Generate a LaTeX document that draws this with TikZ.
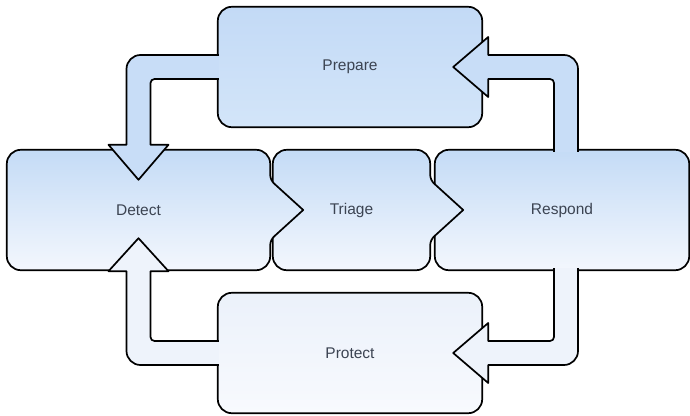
\documentclass[tikz,border=0pt]{standalone}
\usepackage{fontspec}
\setmainfont{Liberation Sans}
\usetikzlibrary{calc, backgrounds}
\definecolor{labeltext}{HTML}{3C4452}
\definecolor{preptop}{HTML}{C3DAF6}
\definecolor{preplow}{HTML}{D3E5F9}
\definecolor{boxtop}{HTML}{C4DBF6}
\definecolor{boxlow}{HTML}{F3F7FD}
\definecolor{prottop}{HTML}{EBF1FA}
\definecolor{protlow}{HTML}{F8FAFE}
\definecolor{arrowblue}{HTML}{C8DDF7}
\definecolor{arrowpale}{HTML}{EEF3FB}

\begin{document}
\begin{tikzpicture}[x=1pt, y=-1pt,
    every node/.style={font=\fontsize{15.5}{18}\selectfont, text=labeltext},
    panel/.style={minimum height=120pt, inner sep=0pt},
    outline/.style={draw=black, line width=1.7pt, line join=round},
    prepbox/.style={outline, top color=preptop, bottom color=preplow},
    stagebox/.style={outline, top color=boxtop, bottom color=boxlow},
    protbox/.style={outline, top color=prottop, bottom color=protlow},
    arrowup/.style={outline, fill=arrowblue},
    arrowdown/.style={outline, fill=arrowpale}
]
    \useasboundingbox (0,0) rectangle (690,415);

    % Stage labels
    \node[panel, minimum width=264pt] (prepare) at (350,67)    {Prepare};
    \node[panel, minimum width=263pt] (detect)  at (138.5,210) {Detect};
    \node[panel, minimum width=157pt] (triage)  at (351.5,210) {Triage};
    \node[panel, minimum width=254pt] (respond) at (562,210)   {Respond};
    \node[panel, minimum width=264pt] (protect) at (350,353)   {Protect};

    \coordinate (tl)  at (detect.north |- prepare.west);
    \coordinate (bl)  at (detect.south |- protect.west);
    \coordinate (rup) at ($(respond.north)+(4,0)$);
    \coordinate (rdn) at ($(respond.south)+(4,0)$);
    \coordinate (tr)  at (rup |- prepare.east);
    \coordinate (br)  at (rdn |- protect.east);

    \begin{scope}[on background layer]
    % Middle row, drawn right to left so each point overlaps
    \path[stagebox] [rounded corners=14] (respond.north west) rectangle (respond.south east);
    \path[stagebox] (triage.north) [rounded corners=14] -- (triage.north east)
        [rounded corners=5] -- ($(triage.east)+(0,-30)$)
        [sharp corners] -- ($(triage.east)+(33,0)$)
        [rounded corners=5] -- ($(triage.east)+(0,30)$)
        [rounded corners=14] -- (triage.south east) -- (triage.south west)
        -- (triage.north west) -- cycle;
    \path[stagebox] (detect.north) [rounded corners=14] -- (detect.north east)
        [rounded corners=5] -- ($(detect.east)+(0,-30)$)
        [sharp corners] -- ($(detect.east)+(33,0)$)
        [rounded corners=5] -- ($(detect.east)+(0,30)$)
        [rounded corners=14] -- (detect.south east) -- (detect.south west)
        -- (detect.north west) -- cycle;

    % Top and bottom boxes
    \path[prepbox] [rounded corners=14] (prepare.north west) rectangle (prepare.south east);
    \path[protbox] [rounded corners=14] (protect.north west) rectangle (protect.south east);

    % Prepare -> Detect
    \filldraw[arrowup] ($(prepare.west)+(1,-12)$)
        [rounded corners=14] -- ($(tl)+(-12,-12)$)
        [sharp corners] -- ($(detect.north)+(-12,-5)$) -- ($(detect.north)+(-30,-5)$)
        -- ($(detect.north)+(0,30)$) -- ($(detect.north)+(30,-5)$) -- ($(detect.north)+(12,-5)$)
        [rounded corners=4] -- ($(tl)+(12,12)$)
        [sharp corners] -- ($(prepare.west)+(1,12)$);

    % Respond -> Prepare
    \filldraw[arrowup] ($(rup)+(-12,2)$)
        [rounded corners=4] -- ($(tr)+(-12,12)$)
        [sharp corners] -- ($(prepare.east)+(6,12)$) -- ($(prepare.east)+(6,30)$)
        -- ($(prepare.east)+(-29,0)$) -- ($(prepare.east)+(6,-30)$) -- ($(prepare.east)+(6,-12)$)
        [rounded corners=14] -- ($(tr)+(12,-12)$)
        [sharp corners] -- ($(rup)+(12,2)$);

    % Respond -> Protect
    \filldraw[arrowdown] ($(rdn)+(-12,-2)$)
        [rounded corners=4] -- ($(br)+(-12,-12)$)
        [sharp corners] -- ($(protect.east)+(6,-12)$) -- ($(protect.east)+(6,-30)$)
        -- ($(protect.east)+(-29,0)$) -- ($(protect.east)+(6,30)$) -- ($(protect.east)+(6,12)$)
        [rounded corners=14] -- ($(br)+(12,12)$)
        [sharp corners] -- ($(rdn)+(12,-2)$);

    % Protect -> Detect
    \filldraw[arrowdown] ($(protect.west)+(1,-12)$)
        [rounded corners=4] -- ($(bl)+(12,-12)$)
        [sharp corners] -- ($(detect.south)+(12,1)$) -- ($(detect.south)+(30,1)$)
        -- ($(detect.south)+(0,-32)$) -- ($(detect.south)+(-30,1)$) -- ($(detect.south)+(-12,1)$)
        [rounded corners=14] -- ($(bl)+(-12,12)$)
        [sharp corners] -- ($(protect.west)+(1,12)$);
    \end{scope}
\end{tikzpicture}
\end{document}
